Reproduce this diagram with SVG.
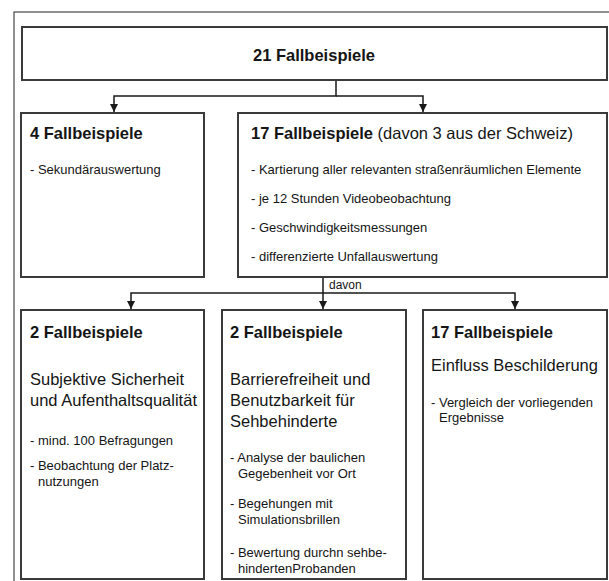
<svg xmlns="http://www.w3.org/2000/svg" width="609" height="581" viewBox="0 0 609 581">
<style>
  .frame{fill:none;stroke:#222;stroke-width:1}
  .box{fill:#fff;stroke:#3a3a3a;stroke-width:2}
  .conn{fill:none;stroke:#1a1a1a;stroke-width:1.5}
  text{font-family:"Liberation Sans",Arial,sans-serif;fill:#151515}
  .h{font-size:16.5px;font-weight:bold}
  .s{font-size:16.5px}
  .b{font-size:13px}
  .d{font-size:12px}
</style>
<defs>
  <marker id="arr" markerWidth="8" markerHeight="8" refX="8" refY="4" orient="auto" markerUnits="userSpaceOnUse">
    <path d="M0,0 L8,4 L0,8 z" fill="#1a1a1a"/>
  </marker>
</defs>
<rect width="609" height="581" fill="#fff"/>
<rect class="frame" x="14" y="12" width="620" height="600"/>

<g id="connectors">
  <path class="conn" d="M336,80 V96 H114 V112" marker-end="url(#arr)"/>
  <path class="conn" d="M336,96 H423 V112" marker-end="url(#arr)"/>
  <path class="conn" d="M323,277 V293 H131 V309" marker-end="url(#arr)"/>
  <path class="conn" d="M323,293 V309" marker-end="url(#arr)"/>
  <path class="conn" d="M323,293 H515 V309" marker-end="url(#arr)"/>
  <text class="d" x="329" y="289">davon</text>
</g>

<g id="n21">
  <rect class="box" x="22" y="27" width="585" height="53"/>
  <text class="h" x="314" y="61" text-anchor="middle">21 Fallbeispiele</text>
</g>

<g id="n4">
  <rect class="box" x="21" y="113" width="183" height="164"/>
  <text class="h" x="30" y="139">4 Fallbeispiele</text>
  <text class="b" x="30" y="174">- Sekundärauswertung</text>
</g>

<g id="n17">
  <rect class="box" x="238" y="113" width="369" height="164"/>
  <text x="251" y="139"><tspan class="h">17 Fallbeispiele</tspan><tspan class="s"> (davon 3 aus der Schweiz)</tspan></text>
  <text class="b" x="251" y="174">- Kartierung aller relevanten straßenräumlichen Elemente</text>
  <text class="b" x="251" y="203">- je 12 Stunden Videobeobachtung</text>
  <text class="b" x="251" y="232">- Geschwindigkeitsmessungen</text>
  <text class="b" x="251" y="261">- differenzierte Unfallauswertung</text>
</g>

<g id="nSicherheit">
  <rect class="box" x="21" y="310" width="183" height="269"/>
  <text class="h" x="30" y="338">2 Fallbeispiele</text>
  <text class="s" x="30" y="385">Subjektive Sicherheit</text>
  <text class="s" x="30" y="406">und Aufenthaltsqualität</text>
  <text class="b" x="30" y="445">- mind. 100 Befragungen</text>
  <text class="b" x="30" y="470">- Beobachtung der Platz-</text>
  <text class="b" x="38" y="486">nutzungen</text>
</g>

<g id="nBarriere">
  <rect class="box" x="222" y="310" width="184" height="269"/>
  <text class="h" x="230" y="338">2 Fallbeispiele</text>
  <text class="s" x="230" y="385">Barrierefreiheit und</text>
  <text class="s" x="230" y="406">Benutzbarkeit für</text>
  <text class="s" x="230" y="427">Sehbehinderte</text>
  <text class="b" x="230" y="462">- Analyse der baulichen</text>
  <text class="b" x="238" y="478">Gegebenheit vor Ort</text>
  <text class="b" x="230" y="508">- Begehungen mit</text>
  <text class="b" x="238" y="524">Simulationsbrillen</text>
  <text class="b" x="230" y="557">- Bewertung durchn sehbe-</text>
  <text class="b" x="238" y="573">hindertenProbanden</text>
</g>

<g id="nBeschilderung">
  <rect class="box" x="423" y="310" width="184" height="269"/>
  <text class="h" x="431" y="338">17 Fallbeispiele</text>
  <text class="s" x="431" y="371">Einfluss Beschilderung</text>
  <text class="b" x="431" y="407">- Vergleich der vorliegenden</text>
  <text class="b" x="439" y="422">Ergebnisse</text>
</g>
</svg>
